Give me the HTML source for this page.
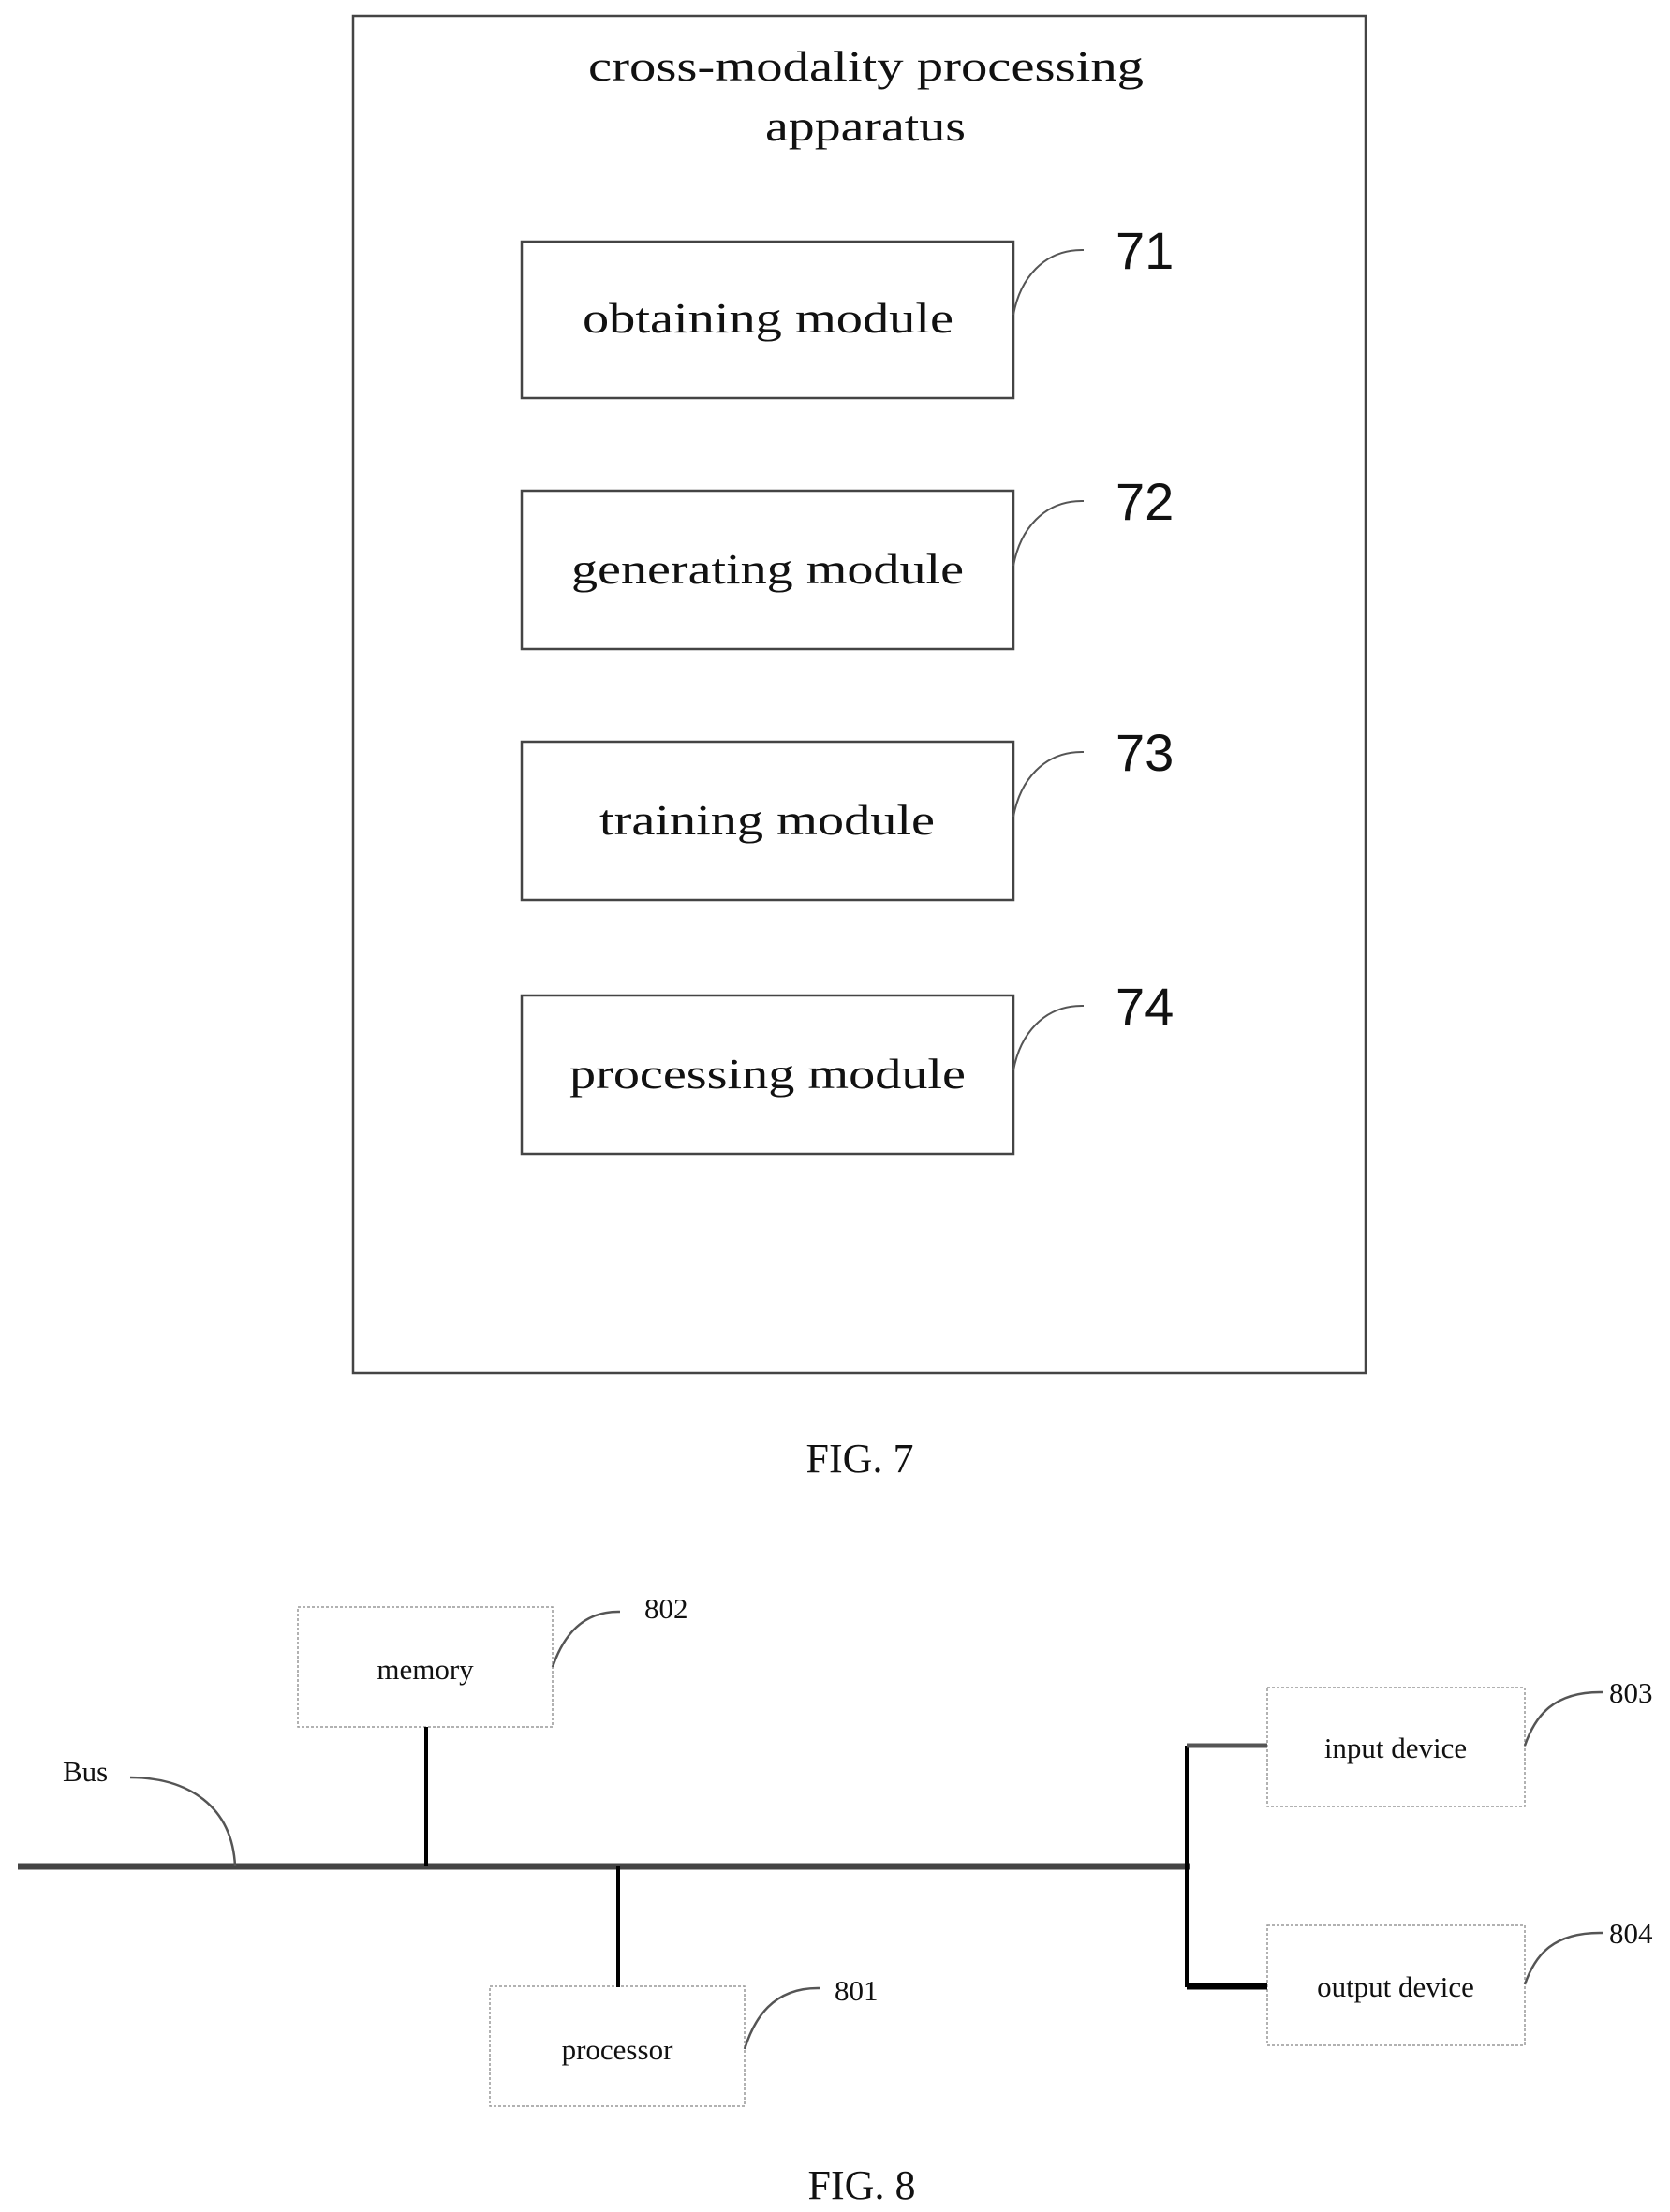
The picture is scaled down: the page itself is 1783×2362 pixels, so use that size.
<!DOCTYPE html>
<html><head><meta charset="utf-8"><style>
html,body{margin:0;padding:0;background:#fff;}
svg{display:block;}
</style></head><body>
<svg width="1783" height="2362" viewBox="0 0 1783 2362" xmlns="http://www.w3.org/2000/svg">
<g fill="none" stroke="#444" stroke-width="2.5">
<rect x="377" y="17" width="1081" height="1449"/>
<rect x="557" y="258" width="525" height="167"/>
<rect x="557" y="524" width="525" height="169"/>
<rect x="557" y="792" width="525" height="169"/>
<rect x="557" y="1063" width="525" height="169"/>
</g>
<g fill="none" stroke="#555" stroke-width="2">
<path d="M1082 336 C1089 298 1114 266 1157 267"/>
<path d="M1082 604 C1089 566 1114 534 1157 535"/>
<path d="M1082 872 C1089 834 1114 802 1157 803"/>
<path d="M1082 1143 C1089 1105 1114 1073 1157 1074"/>
</g>
<g font-family="Liberation Serif, serif" font-size="46" fill="#111" lengthAdjust="spacingAndGlyphs">
<text x="628" y="86" textLength="593" lengthAdjust="spacingAndGlyphs">cross-modality processing</text>
<text x="817" y="150" textLength="214" lengthAdjust="spacingAndGlyphs">apparatus</text>
<text x="622" y="355" textLength="396" lengthAdjust="spacingAndGlyphs">obtaining module</text>
<text x="610" y="623" textLength="419" lengthAdjust="spacingAndGlyphs">generating module</text>
<text x="640" y="891" textLength="358" lengthAdjust="spacingAndGlyphs">training module</text>
<text x="608" y="1162" textLength="423" lengthAdjust="spacingAndGlyphs">processing module</text>
</g>
<text x="918" y="1572" font-family="Liberation Serif, serif" font-size="44" fill="#111" text-anchor="middle">FIG. 7</text>
<g font-family="Liberation Sans, sans-serif" font-size="56" fill="#111">
<text x="1191" y="287">71</text>
<text x="1191" y="555">72</text>
<text x="1191" y="823">73</text>
<text x="1191" y="1094">74</text>
</g>
<g fill="none" stroke="#999" stroke-width="1.5" stroke-dasharray="3 2">
<rect x="318" y="1716" width="272" height="128"/>
<rect x="523" y="2121" width="272" height="128"/>
<rect x="1353" y="1802" width="275" height="127"/>
<rect x="1353" y="2056" width="275" height="128"/>
</g>
<line x1="19" y1="1993" x2="1270" y2="1993" stroke="#444" stroke-width="7"/>
<g stroke="#000" stroke-width="4" fill="none">
<line x1="455" y1="1844" x2="455" y2="1993"/>
<line x1="660" y1="1993" x2="660" y2="2122"/>
<line x1="1267" y1="1864" x2="1267" y2="2122"/>
<line x1="1267" y1="2121" x2="1353" y2="2121" stroke-width="7"/>
<line x1="1267" y1="1864" x2="1353" y2="1864" stroke="#555" stroke-width="5"/>
</g>
<g fill="none" stroke="#555" stroke-width="2.5">
<path d="M590 1780 C601 1748 621 1720 662 1721"/>
<path d="M795 2188 C805 2156 825 2122 875 2123"/>
<path d="M1628 1864 C1639 1832 1659 1806 1711 1807"/>
<path d="M1628 2119 C1639 2087 1659 2063 1711 2064"/>
<path d="M139 1898 C200 1898 248 1928 251 1993"/>
</g>
<g font-family="Liberation Serif, serif" font-size="31" fill="#111" text-anchor="middle">
<text x="454" y="1793">memory</text>
<text x="659" y="2199">processor</text>
<text x="1490" y="1877">input device</text>
<text x="1490" y="2132">output device</text>
</g>
<g font-family="Liberation Serif, serif" font-size="31" fill="#111">
<text x="688" y="1728">802</text>
<text x="891" y="2136">801</text>
<text x="1718" y="1818">803</text>
<text x="1718" y="2075">804</text>
<text x="67" y="1902">Bus</text>
</g>
<text x="920" y="2348" font-family="Liberation Serif, serif" font-size="44" fill="#111" text-anchor="middle">FIG. 8</text>
</svg>
</body></html>
